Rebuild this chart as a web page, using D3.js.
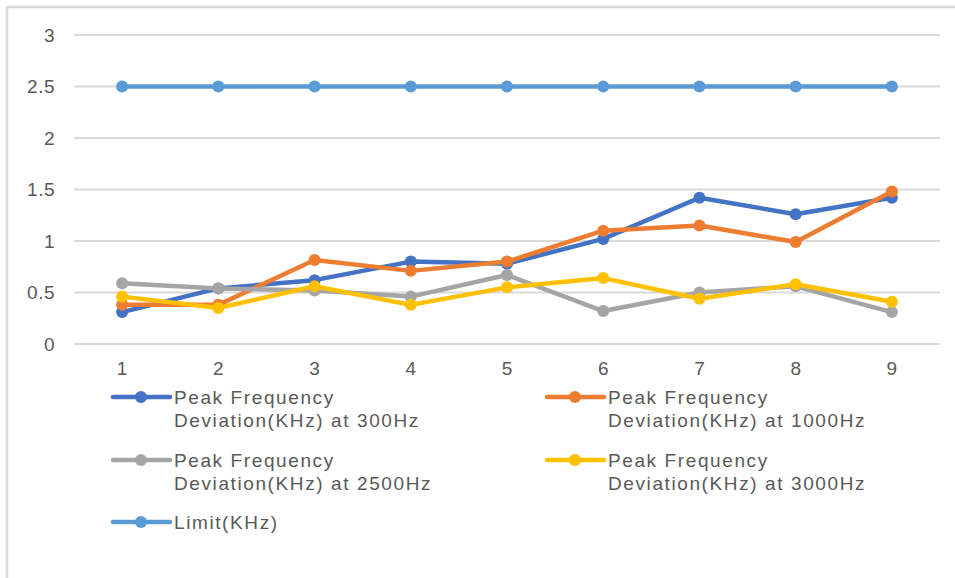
<!DOCTYPE html>
<html><head><meta charset="utf-8">
<script src="https://cdn.jsdelivr.net/npm/d3@7/dist/d3.min.js"></script>
<style>body{margin:0;background:#fff}svg{display:block}</style>
</head><body>
<svg id="c" width="955" height="578"></svg>
<script>
const categories = [1,2,3,4,5,6,7,8,9];
const yTicks = [0,0.5,1,1.5,2,2.5,3];
const yTickLabels = ["0","0.5","1","1.5","2","2.5","3"];
const s300 = [0.31,0.54,0.62,0.80,0.78,1.02,1.42,1.26,1.42];
const s1000 = [0.38,0.38,0.815,0.71,0.80,1.10,1.15,0.99,1.48];
const s2500 = [0.59,0.54,0.52,0.46,0.67,0.32,0.50,0.56,0.31];
const s3000 = [0.46,0.35,0.56,0.38,0.55,0.64,0.44,0.58,0.41];
const sLimit = [2.5,2.5,2.5,2.5,2.5,2.5,2.5,2.5,2.5];
const seriesNames = ["Peak Frequency|Deviation(KHz) at 300Hz","Peak Frequency|Deviation(KHz) at 1000Hz","Peak Frequency|Deviation(KHz) at 2500Hz","Peak Frequency|Deviation(KHz) at 3000Hz","Limit(KHz)"];
const colors = ["#4472C4","#ED7D31","#A5A5A5","#FFC000","#5B9BD5"];
const seriesValues = [s300,s1000,s2500,s3000,sLimit];

(function(){
const svg = d3.select("#c");
const font = "'Liberation Sans',Arial,sans-serif";
const txt = "#595959";
svg.append("line").attr("x1",7).attr("x2",7).attr("y1",6).attr("y2",578).attr("stroke","#d9d9d9").attr("stroke-width",2.5);
svg.append("line").attr("x1",6).attr("x2",955).attr("y1",7).attr("y2",7).attr("stroke","#d9d9d9").attr("stroke-width",2.5);

const pl=74, pr=940, pt=35, pb=344;
const x = d3.scaleBand().domain(categories).range([pl,pr]);
const y = d3.scaleLinear().domain([0,3]).range([pb,pt]);
const cx = d => x(d)+x.bandwidth()/2;

const g = svg.append("g");
g.selectAll("line.grid").data(yTicks).join("line")
  .attr("x1",pl).attr("x2",pr).attr("y1",d=>y(d)).attr("y2",d=>y(d))
  .attr("stroke","#d9d9d9").attr("stroke-width",2);
g.selectAll("text.yl").data(yTicks).join("text")
  .attr("x",55).attr("y",d=>y(d)).attr("dy","0.36em").attr("text-anchor","end")
  .attr("font-family",font).attr("font-size",19).attr("letter-spacing","0.5px").attr("fill",txt).text((d,i)=>yTickLabels[i]);
g.selectAll("text.xl").data(categories).join("text")
  .attr("x",d=>cx(d)).attr("y",pb+24).attr("dy","0.36em").attr("text-anchor","middle")
  .attr("font-family",font).attr("font-size",19).attr("fill",txt).text(d=>d);

const line = d3.line().x((d,i)=>cx(categories[i])).y(d=>y(d));
seriesValues.forEach((vals,si)=>{
  const sg = svg.append("g");
  sg.append("path").attr("d",line(vals)).attr("fill","none").attr("stroke",colors[si]).attr("stroke-width",4.5).attr("stroke-linejoin","round").attr("stroke-linecap","round");
  sg.selectAll("circle").data(vals).join("circle").attr("cx",(d,i)=>cx(categories[i])).attr("cy",d=>y(d)).attr("r",6).attr("fill",colors[si]);
});

const legPos = [[113,397],[547,397],[113,460],[547,460],[113,522]];
seriesNames.forEach((nm,i)=>{
  const [lx,ly] = legPos[i];
  const lg = svg.append("g");
  lg.append("line").attr("x1",lx).attr("x2",lx+57).attr("y1",ly).attr("y2",ly).attr("stroke",colors[i]).attr("stroke-width",4.5).attr("stroke-linecap","round");
  lg.append("circle").attr("cx",lx+28).attr("cy",ly).attr("r",6).attr("fill",colors[i]);
  nm.split("|").forEach((p,j)=>{
    lg.append("text").attr("x",lx+61).attr("y",ly+j*23).attr("dy","0.36em")
      .attr("font-family",font).attr("font-size",19).attr("letter-spacing","1.6px").attr("fill",txt).text(p);
  });
});
})();
</script>
</body></html>
